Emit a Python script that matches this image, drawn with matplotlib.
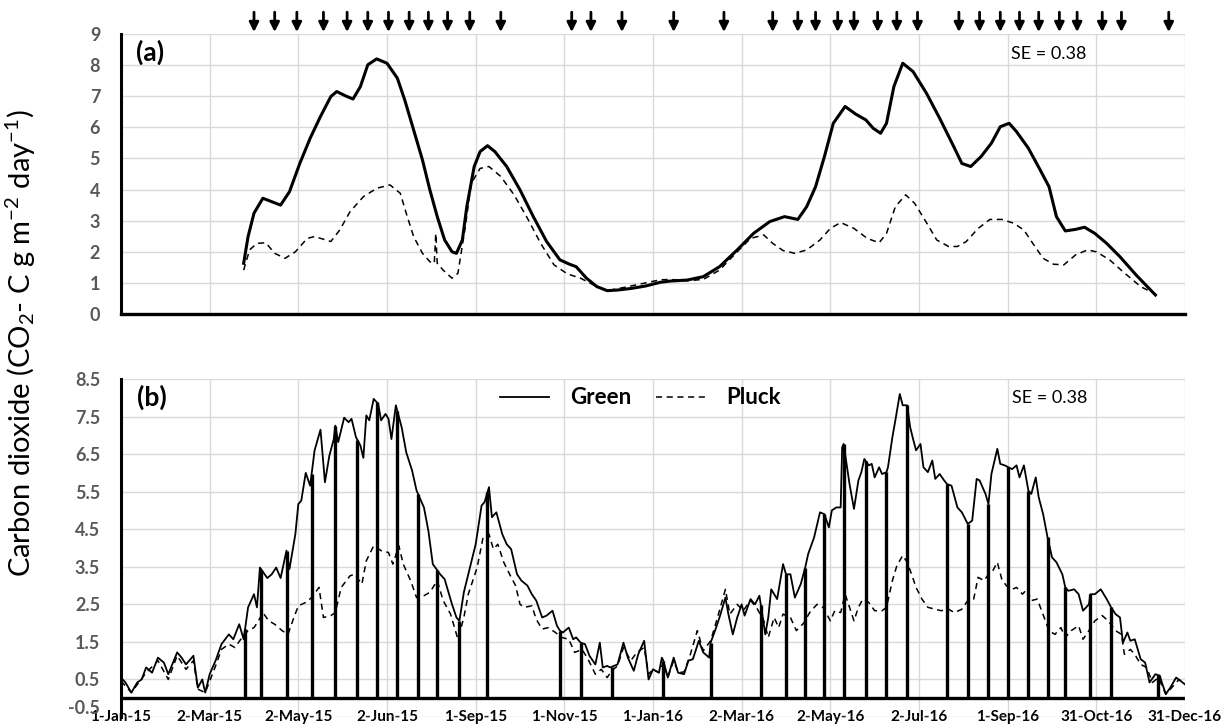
"""
    Soil CO2 efflux, Green vs Pluck treatments: (a) smoothed, (b) daily
"""

import numpy as np
from matplotlib import pyplot as plt

plt.rcParams["font.family"] = ["Lato", "DejaVu Sans"]
plt.rcParams["mathtext.fontset"] = "custom"
plt.rcParams["mathtext.rm"] = "Lato"
plt.rcParams["mathtext.it"] = "Lato:italic"
plt.rcParams["mathtext.bf"] = "Lato:bold"

# x axis is a day index (0 = 1-Jan-15), labels every 60 positions
xtick_labels = ["1-Jan-15", "2-Mar-15", "2-May-15", "2-Jun-15", "1-Sep-15", "1-Nov-15",
                "1-Jan-16", "2-Mar-16", "2-May-16", "2-Jul-16", "1-Sep-16", "31-Oct-16",
                "31-Dec-16"]

# sampling dates (arrows above panel a, drop lines in panel b)
arrow_day = [90, 104, 119, 137, 153, 167, 181, 195, 208, 221, 236, 257, 305, 318, 339,
             374, 408, 441, 458, 470, 485, 496, 512, 525, 539, 567, 581, 595, 608, 621,
             635, 647, 664, 677, 709]
drop_day = [84, 95, 112, 129, 145, 160, 173, 187, 201, 214, 229, 248, 297, 311, 332,
            367, 399, 433, 450, 463, 476, 489, 504, 518, 532, 559, 573, 587, 600, 614,
            627, 639, 656, 670, 702]

# panel (a) - smoothed series
green_a_day = [83, 86, 90, 96, 102, 108, 114, 121, 128, 135, 142, 146, 152, 157, 162, 167,
               173, 180, 187, 192, 198, 204, 209, 214, 219, 224, 227, 231, 234, 239, 243,
               248, 253, 261, 270, 279, 288, 297, 303, 308, 315, 322, 329, 336, 345, 355,
               365, 372, 383, 394, 405, 417, 428, 439, 449, 458, 464, 470, 476, 482, 490,
               497, 504, 509, 514, 518, 523, 529, 536, 545, 554, 563, 569, 575, 582, 589,
               595, 601, 606, 614, 622, 628, 633, 639, 646, 652, 659, 667, 676, 687, 700]
green_a = [1.63, 2.49, 3.24, 3.72, 3.61, 3.50, 3.93, 4.84, 5.65, 6.35, 6.99, 7.15, 7.01,
           6.91, 7.31, 8.01, 8.20, 8.06, 7.58, 6.88, 5.92, 4.95, 3.99, 3.13, 2.38, 2.00,
           1.95, 2.38, 3.45, 4.74, 5.22, 5.41, 5.22, 4.74, 3.99, 3.13, 2.33, 1.74, 1.61,
           1.52, 1.15, 0.88, 0.75, 0.77, 0.82, 0.90, 1.02, 1.06, 1.09, 1.20, 1.52, 2.06,
           2.59, 2.97, 3.13, 3.04, 3.45, 4.09, 5.06, 6.13, 6.67, 6.43, 6.24, 5.97, 5.81,
           6.13, 7.31, 8.06, 7.79, 7.10, 6.29, 5.43, 4.84, 4.74, 5.06, 5.49, 6.02, 6.13,
           5.86, 5.33, 4.63, 4.09, 3.13, 2.67, 2.72, 2.79, 2.59, 2.27, 1.84, 1.25, 0.61]

pluck_a_day = [83, 87, 92, 98, 104, 111, 118, 126, 131, 142, 148, 155, 164, 173, 182, 189,
               193, 198, 204, 209, 212, 213, 214, 218, 224, 228, 233, 237, 243, 249, 257,
               266, 275, 284, 293, 302, 311, 320, 329, 340, 355, 365, 372, 383, 394, 405,
               417, 426, 435, 441, 448, 456, 464, 473, 480, 487, 496, 505, 513, 518, 524,
               531, 537, 544, 552, 560, 566, 572, 580, 588, 596, 604, 611, 617, 624, 631,
               638, 646, 654, 660, 669, 678, 690, 700]
pluck_a = [1.41, 2.06, 2.27, 2.29, 1.95, 1.79, 2.00, 2.43, 2.49, 2.33, 2.70, 3.29, 3.77,
           4.04, 4.15, 3.88, 3.24, 2.49, 1.95, 1.68, 1.63, 2.59, 1.63, 1.41, 1.15, 1.31,
           2.81, 4.20, 4.68, 4.74, 4.42, 3.83, 3.08, 2.27, 1.58, 1.29, 1.15, 0.93, 0.75,
           0.85, 1.00, 1.10, 1.11, 1.07, 1.11, 1.41, 2.00, 2.43, 2.54, 2.27, 2.04, 1.95,
           2.06, 2.38, 2.75, 2.94, 2.75, 2.43, 2.29, 2.59, 3.45, 3.83, 3.56, 3.02, 2.38,
           2.17, 2.17, 2.33, 2.75, 3.04, 3.04, 2.92, 2.70, 2.27, 1.79, 1.60, 1.58, 1.90,
           2.06, 2.00, 1.74, 1.36, 0.88, 0.64]

# panel (b) - daily series
green_b_day = [0, 3, 7, 11, 14, 17, 21, 25, 29, 32, 38, 41, 44, 49, 52, 55, 57, 60, 64, 68,
               73, 76, 80, 83, 86, 90, 92, 94, 99, 102, 105, 108, 110, 112, 114, 118, 120,
               122, 125, 128, 131, 135, 138, 141, 144, 145, 147, 151, 154, 156, 159, 162,
               164, 166, 168, 171, 174, 176, 179, 181, 183, 186, 190, 193, 197, 200, 205,
               208, 211, 216, 219, 224, 227, 229, 232, 235, 240, 244, 246, 249, 251, 254,
               258, 261, 264, 268, 271, 275, 278, 281, 285, 288, 292, 295, 297, 299, 303,
               306, 308, 311, 314, 317, 321, 324, 326, 329, 331, 336, 340, 343, 347, 350,
               354, 357, 360, 364, 366, 367, 370, 374, 377, 381, 384, 387, 391, 394, 398,
               399, 402, 405, 409, 411, 414, 417, 420, 422, 426, 429, 432, 436, 438, 440,
               444, 448, 450, 453, 456, 460, 463, 465, 469, 473, 476, 479, 481, 484, 487,
               488, 489, 491, 493, 496, 499, 501, 503, 506, 508, 510, 513, 515, 518, 519,
               522, 524, 527, 529, 532, 534, 536, 538, 541, 543, 546, 549, 551, 554, 557,
               559, 562, 566, 569, 573, 576, 579, 581, 585, 587, 589, 593, 595, 598, 603,
               606, 608, 611, 614, 616, 619, 621, 624, 627, 630, 633, 637, 639, 641, 645,
               648, 651, 655, 656, 659, 663, 667, 670, 673, 676, 678, 681, 683, 686, 690,
               693, 696, 700, 703, 704, 707, 710, 714, 717, 720]
green_b = [0.55, 0.42, 0.15, 0.42, 0.50, 0.82, 0.68, 1.08, 0.95, 0.64, 1.22, 1.08, 0.90,
           1.13, 0.28, 0.50, 0.15, 0.64, 1.00, 1.44, 1.70, 1.57, 1.97, 1.57, 2.42, 2.77,
           2.42, 3.48, 3.20, 3.30, 3.48, 3.20, 3.57, 3.93, 3.44, 4.37, 5.17, 5.26, 6.00,
           5.66, 6.60, 7.15, 5.75, 6.46, 6.90, 7.26, 6.82, 7.47, 7.35, 7.44, 6.95, 6.73,
           6.40, 7.53, 7.40, 7.97, 7.84, 7.40, 7.57, 7.44, 6.90, 7.80, 7.20, 6.55, 6.06,
           5.53, 5.08, 4.46, 3.57, 3.30, 3.17, 2.50, 2.15, 2.06, 2.82, 3.30, 4.10, 5.13,
           5.22, 5.62, 4.82, 4.95, 4.37, 4.10, 3.97, 3.30, 3.13, 3.00, 2.77, 2.60, 2.15,
           2.20, 2.33, 1.93, 1.80, 1.75, 1.88, 1.57, 1.62, 1.48, 1.44, 1.13, 0.90, 1.48,
           0.82, 0.86, 0.82, 0.90, 1.48, 1.08, 0.73, 1.17, 1.53, 0.50, 0.77, 0.68, 1.08,
           1.00, 0.55, 1.08, 0.68, 0.64, 1.00, 1.04, 1.53, 1.22, 1.08, 1.48, 1.80, 2.15,
           2.68, 2.24, 1.70, 2.15, 2.50, 2.20, 2.64, 2.50, 2.73, 1.70, 2.15, 2.90, 2.64,
           3.57, 3.30, 3.30, 2.68, 3.04, 3.48, 3.84, 4.28, 4.95, 4.90, 4.55, 5.00, 5.08,
           5.08, 6.68, 6.77, 6.24, 5.70, 5.04, 5.80, 6.02, 6.37, 6.20, 6.24, 5.88, 6.15,
           5.97, 6.02, 6.15, 6.95, 7.40, 8.10, 7.80, 7.80, 7.22, 6.90, 6.60, 6.77, 6.15,
           6.02, 6.33, 5.84, 5.97, 5.80, 5.70, 5.66, 5.08, 4.95, 4.64, 4.73, 5.84, 5.80,
           5.44, 5.17, 5.97, 6.64, 6.24, 6.20, 6.10, 6.20, 5.88, 6.20, 5.53, 5.44, 5.88,
           5.35, 4.90, 4.28, 3.75, 3.62, 3.30, 2.95, 2.86, 2.90, 2.77, 2.33, 2.50, 2.77,
           2.77, 2.90, 2.64, 2.42, 2.24, 2.15, 1.48, 1.75, 1.53, 1.57, 1.04, 0.95, 0.42,
           0.64, 0.60, 0.46, 0.11, 0.28, 0.55, 0.46, 0.37]

pluck_b_day = [0, 7, 17, 25, 32, 38, 44, 49, 52, 57, 64, 68, 73, 77, 82, 86, 90, 93, 96,
               100, 104, 109, 113, 117, 120, 125, 129, 134, 137, 142, 145, 149, 155, 158,
               163, 166, 171, 176, 181, 184, 188, 191, 196, 200, 205, 209, 214, 218, 223,
               228, 232, 235, 241, 245, 249, 252, 255, 259, 263, 267, 270, 273, 278, 281,
               285, 289, 294, 298, 303, 307, 312, 316, 321, 325, 329, 332, 336, 340, 345,
               349, 354, 357, 360, 364, 367, 370, 374, 377, 381, 385, 390, 394, 399, 403,
               409, 412, 417, 421, 426, 430, 435, 438, 442, 445, 448, 453, 457, 462, 466,
               471, 475, 477, 480, 483, 487, 490, 493, 496, 499, 502, 506, 510, 515, 518,
               522, 525, 529, 532, 535, 538, 542, 546, 551, 555, 560, 564, 569, 573, 577,
               580, 584, 587, 590, 593, 596, 599, 603, 606, 610, 613, 616, 620, 623, 628,
               632, 636, 639, 643, 648, 651, 655, 659, 664, 668, 673, 677, 679, 683, 686,
               690, 694, 698, 702, 707, 711, 716, 720]
pluck_b = [0.46, 0.15, 0.68, 1.00, 0.50, 1.13, 0.77, 1.00, 0.24, 0.15, 0.86, 1.30, 1.44,
           1.35, 1.62, 1.80, 1.88, 2.06, 2.28, 2.06, 1.97, 1.80, 1.70, 2.15, 2.46, 2.55,
           2.68, 2.95, 2.15, 2.20, 2.28, 2.95, 3.26, 3.30, 3.04, 3.66, 4.06, 3.93, 3.88,
           3.57, 4.06, 3.57, 3.13, 2.68, 2.73, 2.82, 3.13, 2.60, 2.24, 1.57, 2.15, 2.77,
           3.48, 4.28, 4.37, 3.97, 4.10, 3.62, 3.30, 3.00, 2.50, 2.42, 2.46, 2.10, 1.84,
           1.88, 1.75, 1.62, 1.57, 1.22, 1.30, 1.04, 0.64, 0.77, 0.55, 0.73, 0.86, 1.35,
           1.00, 1.22, 1.35, 0.64, 0.77, 0.68, 0.95, 0.55, 1.00, 0.68, 0.70, 1.13, 1.80,
           1.26, 1.53, 2.06, 2.90, 2.24, 2.50, 2.33, 2.60, 2.42, 2.06, 1.62, 2.15, 1.88,
           2.24, 2.15, 1.80, 2.00, 2.28, 2.50, 2.42, 2.28, 2.06, 2.33, 2.28, 2.77, 2.42,
           2.06, 2.42, 2.64, 2.55, 2.33, 2.33, 2.42, 3.13, 3.53, 3.80, 3.62, 3.30, 2.95,
           2.64, 2.42, 2.37, 2.33, 2.37, 2.28, 2.37, 2.60, 2.64, 3.22, 3.13, 3.30, 3.40,
           3.62, 3.17, 3.00, 2.90, 2.95, 2.77, 2.90, 2.60, 2.64, 2.33, 1.80, 1.70, 1.88,
           1.62, 1.80, 1.93, 1.57, 1.80, 2.06, 2.20, 2.06, 1.80, 1.70, 1.17, 1.30, 1.17,
           0.90, 0.82, 0.42, 0.55, 0.11, 0.28, 0.50, 0.37]

se_text = "SE = 0.38"

GRID = "#d9d9d9"
TICK_GREY = "#595959"


def style_axes(ax):
    ax.set_xlim(0, 720)
    ax.set_xticks(range(0, 721, 60))
    ax.grid(True, color=GRID, lw=1.0, zorder=0)
    ax.set_axisbelow(True)
    ax.tick_params(length=0)
    ax.tick_params(axis="y", pad=15, labelsize=13, labelcolor=TICK_GREY)
    for lab in ax.get_yticklabels():
        lab.set_fontweight("bold")
    for side in ("top", "right"):
        ax.spines[side].set_visible(False)
    ax.spines["left"].set_linewidth(2.2)
    ax.spines["left"].set_color("black")


fig = plt.figure(figsize=(12.25, 7.27), dpi=100)
left, width = 121 / 1225, 1064 / 1225
ax_a = fig.add_axes([left, 1 - 314 / 727, width, 280 / 727])
ax_b = fig.add_axes([left, 1 - 717 / 727, width, 338 / 727])

# Panel (a)
ax_a.set_ylim(0, 9)
ax_a.set_yticks(range(0, 10))
style_axes(ax_a)
ax_a.set_xticklabels([])
ax_a.spines["bottom"].set_linewidth(2.4)
ax_a.spines["bottom"].set_color("black")
ax_a.plot(green_a_day, green_a, color="black", lw=2.2, solid_joinstyle="round", zorder=3)
ax_a.plot(pluck_a_day, pluck_a, color="black", lw=1.1, ls=(0, (4, 3)), zorder=3)
ax_a.text(0.014, 0.935, "(a)", transform=ax_a.transAxes, fontsize=19, fontweight="bold",
          va="center", ha="left")
ax_a.text(0.836, 0.93, se_text, transform=ax_a.transAxes, fontsize=13, va="center", ha="left")
for d in arrow_day:
    ax_a.annotate("", xy=(d, 1.007), xytext=(d, 1.078), xycoords=ax_a.get_xaxis_transform(),
                  annotation_clip=False,
                  arrowprops=dict(arrowstyle="-|>", color="black", lw=2.0, mutation_scale=14,
                                  shrinkA=0, shrinkB=0))

# Panel (b)
ax_b.set_ylim(-0.5, 8.5)
ax_b.set_yticks(np.arange(-0.5, 8.6, 1.0))
ax_b.set_yticklabels(["%.1f" % v for v in np.arange(-0.5, 8.6, 1.0)])
style_axes(ax_b)
ax_b.get_yticklabels()[0].set_verticalalignment("bottom")
ax_b.spines["bottom"].set_visible(False)
ax_b.set_xticklabels(xtick_labels, fontsize=11, fontweight="bold")
ax_b.tick_params(axis="x", pad=-5)
ax_b.axhline(0, color="black", lw=2.4, zorder=4)
ax_b.plot(green_b_day, green_b, color="black", lw=1.3, label="Green", zorder=3)
ax_b.plot(pluck_b_day, pluck_b, color="black", lw=1.1, ls=(0, (4, 3)), label="Pluck", zorder=3)
drop_top = np.interp(drop_day, green_b_day, green_b)
ax_b.vlines(drop_day, 0, drop_top, color="black", lw=2.4, zorder=3)
ax_b.text(0.015, 0.945, "(b)", transform=ax_b.transAxes, fontsize=19, fontweight="bold",
          va="center", ha="left")
ax_b.text(0.837, 0.945, se_text, transform=ax_b.transAxes, fontsize=13, va="center", ha="left")
ax_b.legend(loc="center", bbox_to_anchor=(0.488, 0.944), ncol=2, frameon=False,
            prop={"weight": "bold", "size": 16}, handlelength=2.2, handletextpad=0.95,
            columnspacing=1.1)

fig.text(0.017, 0.528, r"Carbon dioxide (CO$_2$- C g m$^{-2}$ day$^{-1}$)", rotation=90,
         va="center", ha="center", fontsize=21)

fig.savefig("out.png", dpi=100)
